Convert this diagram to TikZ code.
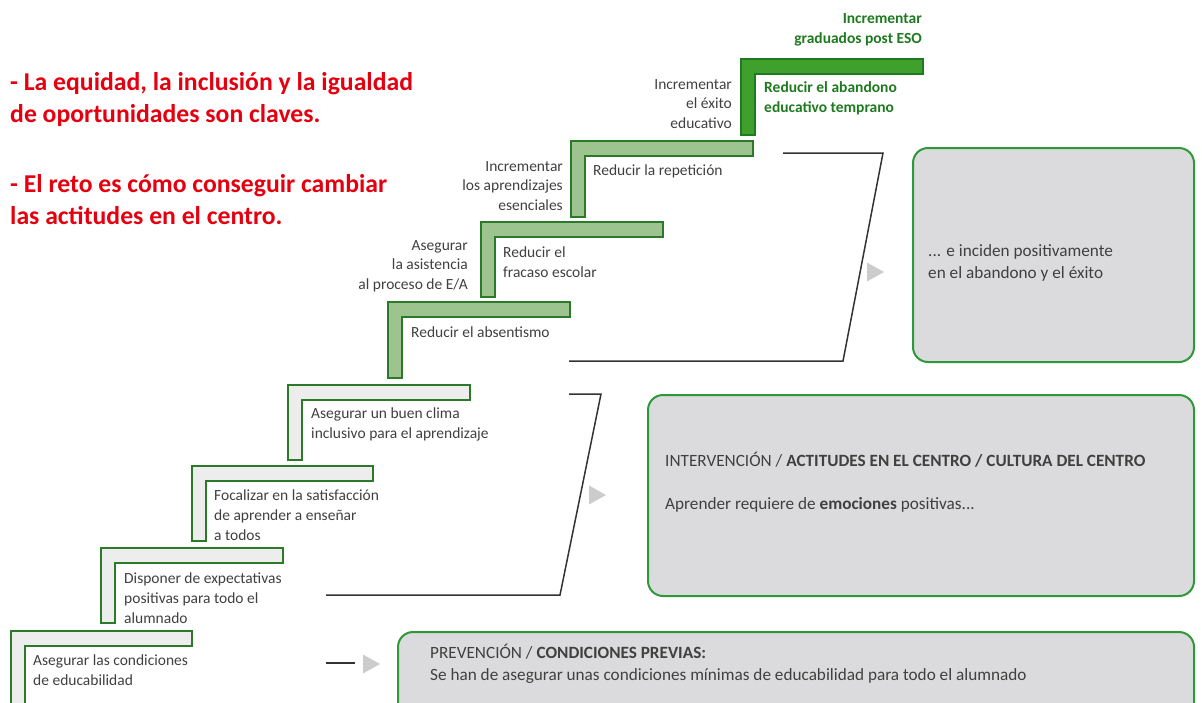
\documentclass[tikz,border=0pt]{standalone}
\usepackage{fontspec}
\setmainfont{Carlito}
\usetikzlibrary{shapes.geometric}
\definecolor{stepline}{HTML}{2A7A2A}
\definecolor{greyfill}{HTML}{EDEDED}
\definecolor{greenfill}{HTML}{9DC48E}
\definecolor{topfill}{HTML}{3FA02E}
\definecolor{boxline}{HTML}{2E9938}
\definecolor{boxfill}{HTML}{DBDBDD}
\definecolor{darkgreen}{HTML}{1E7A1E}
\definecolor{keyred}{HTML}{E5000F}
\definecolor{textgrey}{HTML}{404040}
\tikzstyle{greystep}=[draw=stepline, fill=greyfill, line width=1.5pt]
\tikzstyle{greenstep}=[draw=stepline, fill=greenfill, line width=1.5pt]
\tikzstyle{topstep}=[draw=darkgreen, fill=topfill, line width=1.5pt]
\tikzstyle{steptext}=[inner sep=0pt, text=textgrey, align=left, anchor=west, font=\fontsize{15.5}{20}\selectfont]
\tikzstyle{goaltext}=[inner sep=0pt, text=textgrey, align=right, anchor=east, font=\fontsize{15.5}{19.5}\selectfont]
\tikzstyle{keytext}=[inner sep=0pt, text=keyred, align=left, anchor=west, font=\fontsize{25.7}{32}\selectfont\bfseries]
\tikzstyle{infobox}=[draw=boxline, fill=boxfill, line width=2pt, rounded corners=15pt, inner sep=0pt]
\tikzstyle{boxtext}=[inner sep=0pt, text=textgrey, align=left, anchor=west, font=\fontsize{17.2}{22}\selectfont]
\tikzstyle{bracket}=[draw=black!80, line width=1.5pt]
\tikzstyle{tri}=[fill=black!20]

\begin{document}
\begin{tikzpicture}[x=1pt, y=-1pt]
  \useasboundingbox (0,0) rectangle (1202,702);
  % steps: left/top/right/bottom/style
  \foreach \l/\t/\r/\b/\s in {11/631/192/720/greystep, 101/548/283/623/greystep,
      192/466/373/541/greystep, 288/385/470/460/greystep,
      388/302/570/378/greenstep, 481/222/663/297/greenstep,
      571/141/753/217/greenstep, 741/59/923/135/topstep}
    \draw[\s] (\l,\t) -- (\r,\t) -- (\r,\t+15) -- (\l+14,\t+15) -- (\l+14,\b) -- (\l,\b) -- cycle;

  % key messages
  \node[keytext] (key1) at (10,99) {- La equidad, la inclusión y la igualdad\\de oportunidades son claves.};
  \node[keytext] (key2) at (10,200) {- El reto es cómo conseguir cambiar\\las actitudes en el centro.};

  % step labels
  \node[steptext] (s1) at (33,670) {Asegurar las condiciones\\de educabilidad};
  \node[steptext] (s2) at (124,598) {Disponer de expectativas\\positivas para todo el\\alumnado};
  \node[steptext] (s3) at (214,515) {Focalizar en la satisfacción\\de aprender a enseñar\\a todos};
  \node[steptext] (s4) at (311,424) {Asegurar un buen clima\\inclusivo para el aprendizaje};
  \node[steptext] (s5) at (411,332) {Reducir el absentismo};
  \node[steptext] (s6) at (503,262) {Reducir el\\fracaso escolar};
  \node[steptext] (s7) at (593,171) {Reducir la repetición};
  \node[steptext, text=darkgreen, font=\fontsize{15.5}{20}\selectfont\bfseries] (s8) at (764,98) {Reducir el abandono\\educativo temprano};

  % goals
  \node[goaltext] (g1) at (468,266) {Asegurar\\la asistencia\\al proceso de E/A};
  \node[goaltext] (g2) at (563,186) {Incrementar\\los aprendizajes\\esenciales};
  \node[goaltext] (g3) at (732,104) {Incrementar\\el éxito\\educativo};
  \node[goaltext, text=darkgreen, font=\fontsize{15.5}{20}\selectfont\bfseries] (g4) at (922,30) {Incrementar\\graduados post ESO};

  % boxes
  \node[infobox, minimum width=281pt, minimum height=214pt] (effect) at (1053.5,255) {};
  \node[infobox, minimum width=546pt, minimum height=201pt] (action) at (921,495.5) {};
  \node[infobox, minimum width=796pt, minimum height=90pt] (prevent) at (796,677) {};
  \node[boxtext] (effecttxt) at (928,263) {... e inciden positivamente\\en el abandono y el éxito};
  \node[boxtext] (actiontxt1) at (665,460) {INTERVENCIÓN / \textbf{ACTITUDES EN EL CENTRO / CULTURA DEL CENTRO}};
  \node[boxtext] (actiontxt2) at (665,505) {Aprender requiere de \textbf{emociones} positivas...};
  \node[boxtext] (preventtxt) at (430,664) {PREVENCIÓN / \textbf{CONDICIONES PREVIAS:}\\Se han de asegurar unas condiciones mínimas de educabilidad para todo el alumnado};

  % brackets
  \coordinate (b1a) at (783,153);
  \coordinate (b1b) at (883,153);
  \coordinate (b1c) at (843,361);
  \coordinate (b1d) at (569,361);
  \coordinate (b2a) at (569,394);
  \coordinate (b2b) at (601,394);
  \coordinate (b2c) at (560,595);
  \coordinate (b2d) at (326,595);
  \coordinate (b3a) at (326,663);
  \coordinate (b3b) at (355,663);
  \draw[bracket] (b1a) -- (b1b) -- (b1c) -- (b1d);
  \draw[bracket] (b2a) -- (b2b) -- (b2c) -- (b2d);
  \draw[bracket] (b3a) -- (b3b);

  % pointers
  \coordinate (tip1) at (884,272);
  \coordinate (tip2) at (606,495);
  \coordinate (tip3) at (380,664);
  \foreach \p in {tip1, tip2, tip3}
    \fill[tri] (\p) -- ++(-17,-9.5) -- ++(0,19) -- cycle;
\end{tikzpicture}
\end{document}
